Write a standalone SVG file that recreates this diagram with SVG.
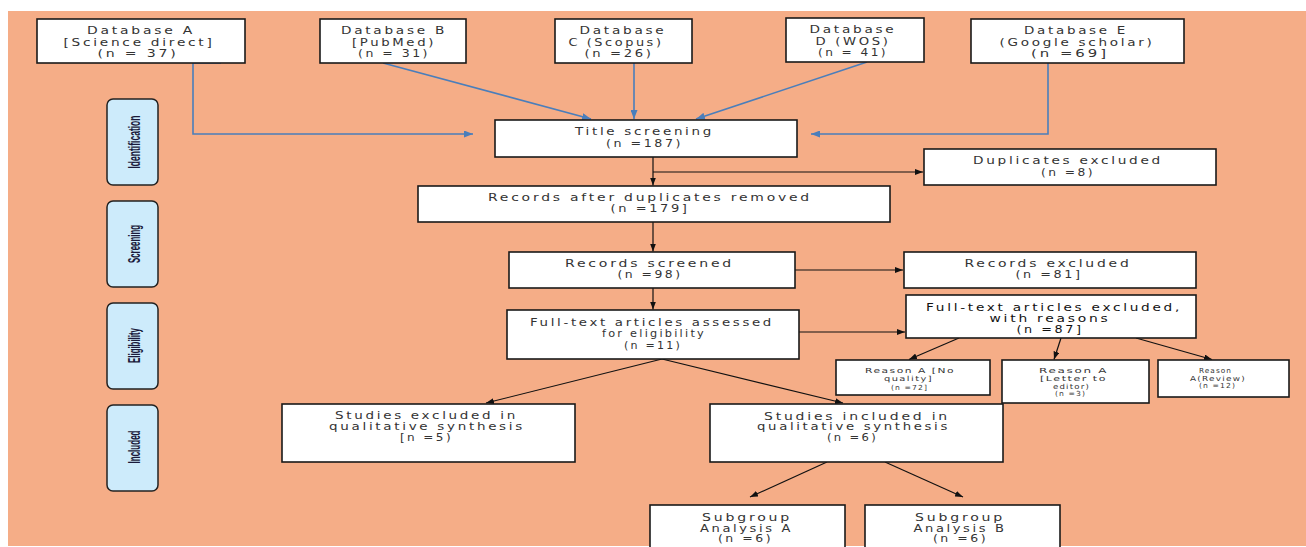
<svg xmlns="http://www.w3.org/2000/svg" width="1306" height="547" viewBox="0 0 1306 547">
<defs>
<marker id="ab" markerUnits="userSpaceOnUse" markerWidth="9" markerHeight="7" refX="9" refY="3.5" orient="auto"><path d="M0,0 L9,3.5 L0,7 z" fill="#4A7EBB"/></marker>
<marker id="ak" markerUnits="userSpaceOnUse" markerWidth="8" markerHeight="6" refX="8" refY="3" orient="auto"><path d="M0,0 L8,3 L0,6 z" fill="#111"/></marker>
<style>
.box{fill:#fff;stroke:#1a1a1a;stroke-width:1.6}
.ph{fill:#CDEBFB;stroke:#222;stroke-width:1.5}
.t{font-family:"DejaVu Sans",sans-serif;font-size:10px;fill:#333;text-anchor:middle;letter-spacing:2px}
.tb{font-family:"DejaVu Sans",sans-serif;font-size:10px;fill:#111;text-anchor:middle;letter-spacing:2px}
.s{font-family:"DejaVu Sans",sans-serif;font-size:7px;fill:#333;text-anchor:middle;letter-spacing:1px}
.pt{font-family:"Liberation Sans",sans-serif;font-size:16px;font-weight:bold;fill:#1a1a3a;text-anchor:middle}
.bl{fill:none;stroke:#4A7EBB;stroke-width:1.6}
.bk{fill:none;stroke:#111;stroke-width:1.2}
</style>
</defs>
<rect x="0" y="0" width="1306" height="547" fill="#fff"/>
<rect x="8" y="11" width="1298" height="535" fill="#F5AD87"/>

<g id="phase-identification"><rect class="ph" x="107" y="99" width="51" height="86" rx="6"/><text class="pt" transform="translate(140,142) rotate(-90)" textLength="53" lengthAdjust="spacingAndGlyphs">Identification</text></g>
<g id="phase-screening"><rect class="ph" x="107" y="201" width="51" height="86" rx="6"/><text class="pt" transform="translate(140,244) rotate(-90)" textLength="38" lengthAdjust="spacingAndGlyphs">Screening</text></g>
<g id="phase-eligibility"><rect class="ph" x="107" y="303" width="51" height="86" rx="6"/><text class="pt" transform="translate(140,345.5) rotate(-90)" textLength="35" lengthAdjust="spacingAndGlyphs">Eligibility</text></g>
<g id="phase-included"><rect class="ph" x="107" y="405" width="51" height="86" rx="6"/><text class="pt" transform="translate(140,447) rotate(-90)" textLength="33" lengthAdjust="spacingAndGlyphs">Included</text></g>

<g id="connectors">
<path class="bl" d="M221,63 H193 V134 H473" marker-end="url(#ab)"/>
<path class="bl" d="M383,63 L591,119" marker-end="url(#ab)"/>
<path class="bl" d="M634,63 V119" marker-end="url(#ab)"/>
<path class="bl" d="M867,62 L696,119" marker-end="url(#ab)"/>
<path class="bl" d="M1048,63 V134 H811" marker-end="url(#ab)"/>
<path class="bk" d="M653,157 V185.5" marker-end="url(#ak)"/>
<path class="bk" d="M653,172 H923" marker-end="url(#ak)"/>
<path class="bk" d="M653,222 V251.5" marker-end="url(#ak)"/>
<path class="bk" d="M795,270 H903" marker-end="url(#ak)"/>
<path class="bk" d="M653,288 V309.5" marker-end="url(#ak)"/>
<path class="bk" d="M799,332 H905" marker-end="url(#ak)"/>
<path class="bk" d="M662,359 L486,403" marker-end="url(#ak)"/>
<path class="bk" d="M662,359 L843,403" marker-end="url(#ak)"/>
<path class="bk" d="M959,338 L909,359.5" marker-end="url(#ak)"/>
<path class="bk" d="M1061,338 L1054,359.5" marker-end="url(#ak)"/>
<path class="bk" d="M1136,338 L1212,359.5" marker-end="url(#ak)"/>
<path class="bk" d="M827,462 L750,497" marker-end="url(#ak)"/>
<path class="bk" d="M885,462 L963,497" marker-end="url(#ak)"/>
</g>

<g id="db-a"><rect class="box" x="37" y="19" width="208" height="44"/>
<text class="t" x="141" y="34" textLength="108" lengthAdjust="spacingAndGlyphs">Database A</text>
<text class="t" x="139" y="45.5" textLength="151" lengthAdjust="spacingAndGlyphs">[Science direct]</text>
<text class="t" x="138" y="57" textLength="81" lengthAdjust="spacingAndGlyphs">(n = 37)</text></g>
<g id="db-b"><rect class="box" x="320" y="19" width="146" height="44"/>
<text class="t" x="394" y="34" textLength="106" lengthAdjust="spacingAndGlyphs">Database B</text>
<text class="t" x="394" y="45.5" textLength="84" lengthAdjust="spacingAndGlyphs">[PubMed)</text>
<text class="t" x="394" y="57" textLength="72" lengthAdjust="spacingAndGlyphs">(n = 31)</text></g>
<g id="db-c"><rect class="box" x="555" y="19" width="137" height="44"/>
<text class="t" x="623" y="34" textLength="87" lengthAdjust="spacingAndGlyphs">Database</text>
<text class="t" x="616" y="45.5" textLength="95" lengthAdjust="spacingAndGlyphs">C (Scopus)</text>
<text class="t" x="619" y="57" textLength="69" lengthAdjust="spacingAndGlyphs">(n =26)</text></g>
<g id="db-d"><rect class="box" x="786" y="18" width="138" height="44"/>
<text class="t" x="853" y="33" textLength="87" lengthAdjust="spacingAndGlyphs">Database</text>
<text class="t" x="853" y="44.5" textLength="75" lengthAdjust="spacingAndGlyphs">D (WOS)</text>
<text class="t" x="853" y="56" textLength="70" lengthAdjust="spacingAndGlyphs">(n = 41)</text></g>
<g id="db-e"><rect class="box" x="971" y="19" width="213" height="44"/>
<text class="t" x="1076" y="34" textLength="104" lengthAdjust="spacingAndGlyphs">Database E</text>
<text class="t" x="1077" y="45.5" textLength="155" lengthAdjust="spacingAndGlyphs">(Google scholar)</text>
<text class="t" x="1070" y="57" textLength="78" lengthAdjust="spacingAndGlyphs">(n =69]</text></g>

<g id="title-screening"><rect class="box" x="495" y="120" width="302" height="37"/>
<text class="t" x="644.5" y="135" textLength="139" lengthAdjust="spacingAndGlyphs">Title screening</text>
<text class="t" x="644.5" y="146.5" textLength="77" lengthAdjust="spacingAndGlyphs">(n =187)</text></g>
<g id="duplicates-excluded"><rect class="box" x="924" y="149" width="292" height="36"/>
<text class="t" x="1068" y="163.5" textLength="190" lengthAdjust="spacingAndGlyphs">Duplicates excluded</text>
<text class="t" x="1068" y="175.5" textLength="54" lengthAdjust="spacingAndGlyphs">(n =8)</text></g>
<g id="records-after"><rect class="box" x="418" y="186" width="472" height="36"/>
<text class="t" x="650" y="200.5" textLength="324" lengthAdjust="spacingAndGlyphs">Records after duplicates removed</text>
<text class="t" x="650" y="212" textLength="79" lengthAdjust="spacingAndGlyphs">(n =179]</text></g>
<g id="records-screened"><rect class="box" x="509" y="252" width="286" height="36"/>
<text class="t" x="649.5" y="266.5" textLength="169" lengthAdjust="spacingAndGlyphs">Records screened</text>
<text class="t" x="650" y="278" textLength="65" lengthAdjust="spacingAndGlyphs">(n =98)</text></g>
<g id="records-excluded"><rect class="box" x="904" y="252" width="292" height="36"/>
<text class="t" x="1048" y="266.5" textLength="167" lengthAdjust="spacingAndGlyphs">Records excluded</text>
<text class="t" x="1049" y="278" textLength="67" lengthAdjust="spacingAndGlyphs">(n =81]</text></g>
<g id="fulltext-assessed"><rect class="box" x="507" y="310" width="292" height="49"/>
<text class="t" x="652" y="325.5" textLength="244" lengthAdjust="spacingAndGlyphs">Full-text articles assessed</text>
<text class="t" x="654" y="337" textLength="104" lengthAdjust="spacingAndGlyphs">for eligibility</text>
<text class="t" x="653" y="348.5" textLength="58" lengthAdjust="spacingAndGlyphs">(n =11)</text></g>
<g id="fulltext-excluded"><rect class="box" x="906" y="295" width="290" height="43"/>
<text class="tb" x="1054" y="310.5" textLength="256" lengthAdjust="spacingAndGlyphs">Full-text articles excluded,</text>
<text class="tb" x="1050" y="321.5" textLength="121" lengthAdjust="spacingAndGlyphs">with reasons</text>
<text class="tb" x="1050" y="332.5" textLength="67" lengthAdjust="spacingAndGlyphs">(n =87]</text></g>
<g id="reason-1"><rect class="box" x="836" y="360" width="154" height="35"/>
<text class="s" x="910" y="372.5" textLength="90" lengthAdjust="spacingAndGlyphs">Reason A [No</text>
<text class="s" x="908.5" y="380.5" textLength="49" lengthAdjust="spacingAndGlyphs">quality]</text>
<text class="s" x="909.5" y="389.5" textLength="37" lengthAdjust="spacingAndGlyphs">(n =72]</text></g>
<g id="reason-2"><rect class="box" x="1002" y="360" width="147" height="43"/>
<text class="s" x="1073.5" y="372.5" textLength="69" lengthAdjust="spacingAndGlyphs">Reason A</text>
<text class="s" x="1073.5" y="380.5" textLength="67" lengthAdjust="spacingAndGlyphs">[Letter to</text>
<text class="s" x="1071.5" y="388.5" textLength="37" lengthAdjust="spacingAndGlyphs">editor)</text>
<text class="s" x="1070.5" y="396" textLength="31" lengthAdjust="spacingAndGlyphs">(n =3)</text></g>
<g id="reason-3"><rect class="box" x="1158" y="360" width="131" height="37"/>
<text class="s" x="1215.5" y="372.5" textLength="33" lengthAdjust="spacingAndGlyphs">Reason</text>
<text class="s" x="1218" y="380.5" textLength="56" lengthAdjust="spacingAndGlyphs">A(Review)</text>
<text class="s" x="1217.5" y="387.5" textLength="37" lengthAdjust="spacingAndGlyphs">(n =12)</text></g>
<g id="studies-excluded"><rect class="box" x="282" y="404" width="293" height="58"/>
<text class="t" x="426.5" y="418.5" textLength="183" lengthAdjust="spacingAndGlyphs">Studies excluded in</text>
<text class="t" x="427" y="429.5" textLength="196" lengthAdjust="spacingAndGlyphs">qualitative synthesis</text>
<text class="t" x="426.5" y="440.5" textLength="53" lengthAdjust="spacingAndGlyphs">[n =5)</text></g>
<g id="studies-included"><rect class="box" x="710" y="404" width="293" height="58"/>
<text class="t" x="857" y="419.5" textLength="186" lengthAdjust="spacingAndGlyphs">Studies included in</text>
<text class="t" x="853.5" y="429.5" textLength="193" lengthAdjust="spacingAndGlyphs">qualitative synthesis</text>
<text class="t" x="852.5" y="440.5" textLength="51" lengthAdjust="spacingAndGlyphs">(n =6)</text></g>
<g id="subgroup-a"><rect class="box" x="650" y="505" width="195" height="60"/>
<text class="t" x="747" y="520.5" textLength="90" lengthAdjust="spacingAndGlyphs">Subgroup</text>
<text class="t" x="746.5" y="532" textLength="93" lengthAdjust="spacingAndGlyphs">Analysis A</text>
<text class="t" x="745.5" y="541.5" textLength="55" lengthAdjust="spacingAndGlyphs">(n =6)</text></g>
<g id="subgroup-b"><rect class="box" x="865" y="505" width="195" height="60"/>
<text class="t" x="960" y="520.5" textLength="90" lengthAdjust="spacingAndGlyphs">Subgroup</text>
<text class="t" x="960" y="532" textLength="93" lengthAdjust="spacingAndGlyphs">Analysis B</text>
<text class="t" x="960.5" y="541.5" textLength="55" lengthAdjust="spacingAndGlyphs">(n =6)</text></g>
</svg>
